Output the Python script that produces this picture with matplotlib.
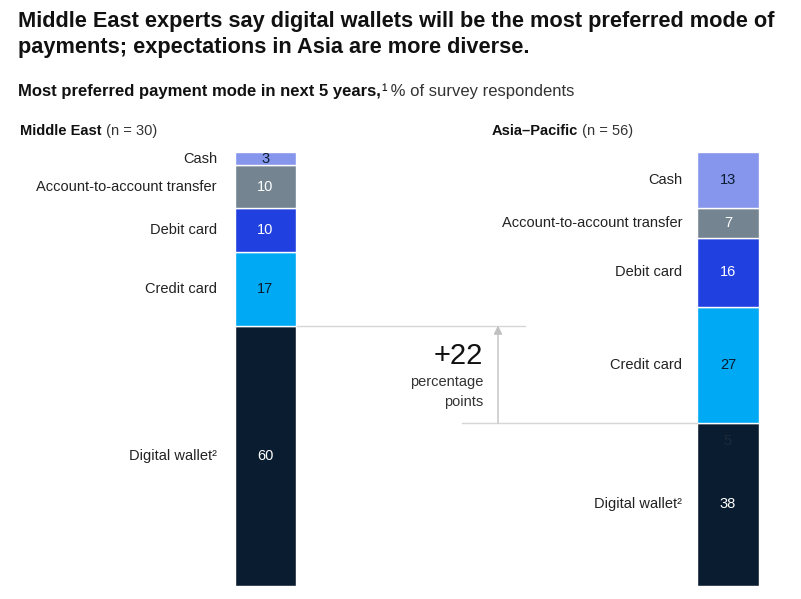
import matplotlib.pyplot as plt
import numpy as np

# data
categories = ['Digital wallet²', 'Credit card', 'Debit card', 'Account-to-account transfer', 'Cash']
middle_east = [60, 17, 10, 10, 3]
asia_pacific = [38, 27, 16, 7, 13]
colors = ['#0a1c2f', '#00a9f4', '#2140e0', '#748591', '#8696ec']
value_colors = ['white', '#0a1c2f', 'white', 'white', '#0a1c2f']
gap_label = '+22'

W, H = 801, 599
fig = plt.figure(figsize=(W / 100, H / 100), dpi=100)
plt.rcParams['font.family'] = ['Liberation Sans', 'DejaVu Sans']
fig.canvas.draw()
renderer = fig.canvas.get_renderer()

bar_top, bar_bot = 152, 586
ax = fig.add_axes([0, (H - bar_bot) / H, 1, (bar_bot - bar_top) / H])
ax.set_xlim(0, W)
ax.set_ylim(0, 100)
ax.axis('off')

def px_y(y):
    return 1 - y / H

def text_run(x, y, parts):
    # parts: (string, size, weight, color, raise_px)
    for s, size, weight, color, rise in parts:
        t = fig.text(x / W, px_y(y - rise), s, fontsize=size, weight=weight,
                     color=color, va='baseline')
        x = t.get_window_extent(renderer).x1

fig.text(18 / W, px_y(27), 'Middle East experts say digital wallets will be the most preferred mode of',
         weight='bold', fontsize=15.7, va='baseline', color='#111111')
fig.text(18 / W, px_y(53), 'payments; expectations in Asia are more diverse.',
         weight='bold', fontsize=15.7, va='baseline', color='#111111')

text_run(18, 96, [('Most preferred payment mode in next 5 years,', 12, 'bold', '#111111', 0),
                  ('¹', 12, 'normal', '#111111', 0),
                  (' % of survey respondents', 12, 'normal', '#333333', 0)])

text_run(20, 135, [('Middle East', 10.5, 'bold', '#111111', 0),
                   (' (n = 30)', 10.5, 'normal', '#333333', 0)])
text_run(492, 135, [('Asia–Pacific', 10.5, 'bold', '#111111', 0),
                    (' (n = 56)', 10.5, 'normal', '#333333', 0)])

def draw_bar(xc, values, label_x):
    vals = np.array(values, dtype=float)
    vals = vals / vals.sum() * 100
    bottoms = np.concatenate([[0], np.cumsum(vals)[:-1]])
    ax.bar(xc, vals, bottom=bottoms, width=61.5, color=colors, edgecolor='white', linewidth=1)
    for v, raw, b, vc, cat in zip(vals, values, bottoms, value_colors, categories):
        mid = b + v / 2
        ax.text(xc, mid, str(raw), ha='center', va='center', fontsize=10.5, color=vc)
        ax.text(label_x, mid, cat, ha='right', va='center', fontsize=10.5, color='#222222')
    return vals

me = draw_bar(265.5, middle_east, 217)
ap = draw_bar(728, asia_pacific, 682)
# stray label on the Asia-Pacific digital wallet segment
ax.text(728, ap[0] - 4.2, '5', ha='center', va='center', fontsize=10.5, color='#1c2a3a')

# connector showing the gap
ax.plot([296.5, 525], [me[0], me[0]], color='#d6d6d6', lw=1)
ax.plot([462, 697], [ap[0], ap[0]], color='#d6d6d6', lw=1)
ax.annotate('', xy=(498, me[0]), xytext=(498, ap[0]),
            arrowprops=dict(arrowstyle='-|>,head_width=0.25,head_length=0.5',
                            color='#c0c0c0', lw=1, shrinkA=0, shrinkB=0))
ax.text(483, me[0] - 7, gap_label, ha='right', va='center', fontsize=21, color='#111111')
ax.text(483, me[0] - 13, 'percentage', ha='right', va='center', fontsize=10.5, color='#333333')
ax.text(483, me[0] - 17.5, 'points', ha='right', va='center', fontsize=10.5, color='#333333')

fig.savefig('out.png', dpi=100)
